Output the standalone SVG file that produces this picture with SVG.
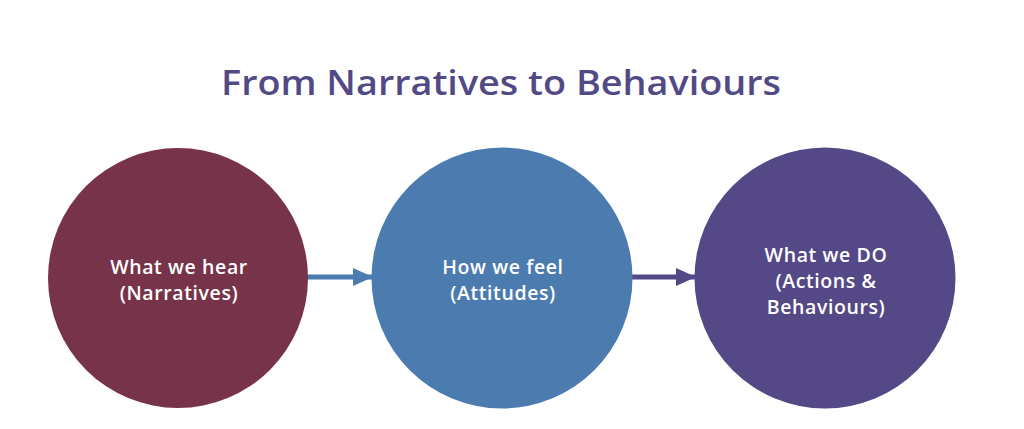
<svg xmlns="http://www.w3.org/2000/svg" width="1024" height="429" viewBox="0 0 1024 429">
<style>
.t{font-family:"Open Sans","Liberation Sans",sans-serif;text-anchor:middle}
.lbl{font-size:19.5px;font-weight:600;fill:#ffffff;letter-spacing:0.6px}
.title{font-size:35px;font-weight:600;fill:#524a86}
</style>
<defs>
<marker id="hb" markerWidth="20" markerHeight="18" refX="19" refY="9" orient="auto" markerUnits="userSpaceOnUse"><path d="M0,0 L20,9 L0,18 z" fill="#4b7baf"/></marker>
<marker id="hp" markerWidth="20" markerHeight="18" refX="19" refY="9" orient="auto" markerUnits="userSpaceOnUse"><path d="M0,0 L20,9 L0,18 z" fill="#544886"/></marker>
</defs>
<rect width="1024" height="429" fill="#ffffff"/>
<text class="t title" x="501" y="95" textLength="560" lengthAdjust="spacingAndGlyphs">From Narratives to Behaviours</text>
<g id="connectors">
<line x1="306" y1="277" x2="372" y2="277" stroke="#4b7baf" stroke-width="5" marker-end="url(#hb)"/>
<line x1="630" y1="277" x2="695" y2="277" stroke="#544886" stroke-width="5" marker-end="url(#hp)"/>
</g>
<g id="node1">
<circle cx="178" cy="278" r="130" fill="#773349"/>
<text class="t lbl" x="179" y="274">What we hear</text>
<text class="t lbl" x="179" y="300">(Narratives)</text>
</g>
<g id="node2">
<circle cx="502" cy="278" r="130.5" fill="#4b7baf"/>
<text class="t lbl" x="503" y="274">How we feel</text>
<text class="t lbl" x="503" y="300">(Attitudes)</text>
</g>
<g id="node3">
<circle cx="825" cy="278" r="130.5" fill="#544886"/>
<text class="t lbl" x="826" y="262">What we DO</text>
<text class="t lbl" x="826" y="288">(Actions &amp;</text>
<text class="t lbl" x="826" y="314">Behaviours)</text>
</g>
</svg>
